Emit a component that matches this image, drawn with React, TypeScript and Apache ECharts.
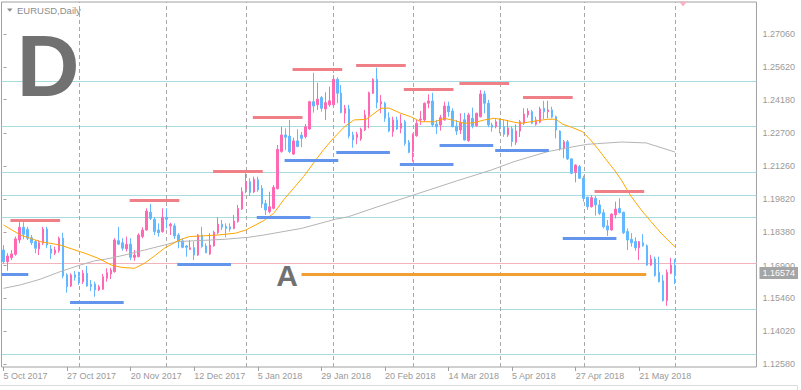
import React, { useEffect, useRef } from "react";
import * as echarts from "echarts";

// ---------- data ----------
const MONTHS = ["Jan", "Feb", "Mar", "Apr", "May", "Jun", "Jul", "Aug", "Sep", "Oct", "Nov", "Dec"];
const HOLIDAYS = ["2017-12-25", "2018-01-01"];
const SHIFT_BARS = 20;
const LABEL_EVERY = 16;

// [open, high, low, close]
const candles: [number, number, number, number][] = [
  [1.1758, 1.1780, 1.1697, 1.1707], [1.1707, 1.1744, 1.1667, 1.1732], [1.1724, 1.1758, 1.1714, 1.1741],
  [1.1739, 1.1817, 1.1733, 1.1807], [1.1802, 1.1880, 1.1788, 1.1858], [1.1858, 1.1880, 1.1805, 1.1827],
  [1.1849, 1.1860, 1.1802, 1.1810], [1.1812, 1.1824, 1.1780, 1.1790], [1.1795, 1.1802, 1.1744, 1.1766],
  [1.1763, 1.1802, 1.1736, 1.1790], [1.1788, 1.1860, 1.1780, 1.1850], [1.1850, 1.1860, 1.1766, 1.1780],
  [1.1763, 1.1780, 1.1719, 1.1744], [1.1744, 1.1773, 1.1736, 1.1758], [1.1755, 1.1817, 1.1746, 1.1810],
  [1.1810, 1.1834, 1.1634, 1.1644], [1.1649, 1.1656, 1.1571, 1.1597], [1.1600, 1.1656, 1.1595, 1.1649],
  [1.1649, 1.1666, 1.1624, 1.1638], [1.1641, 1.1663, 1.1605, 1.1619], [1.1619, 1.1670, 1.1609, 1.1656],
  [1.1656, 1.1688, 1.1597, 1.1600], [1.1608, 1.1627, 1.1578, 1.1598], [1.1609, 1.1619, 1.1553, 1.1583],
  [1.1583, 1.1605, 1.1578, 1.1597], [1.1586, 1.1653, 1.1583, 1.1641], [1.1634, 1.1678, 1.1619, 1.1659],
  [1.1653, 1.1680, 1.1630, 1.1670], [1.1663, 1.1810, 1.1659, 1.1802], [1.1799, 1.1860, 1.1780, 1.1784],
  [1.1790, 1.1810, 1.1755, 1.1766], [1.1763, 1.1817, 1.1751, 1.1783], [1.1784, 1.1810, 1.1714, 1.1726],
  [1.1726, 1.1758, 1.1711, 1.1736], [1.1729, 1.1832, 1.1726, 1.1824], [1.1817, 1.1858, 1.1810, 1.1846],
  [1.1846, 1.1941, 1.1843, 1.1929], [1.1924, 1.1960, 1.1890, 1.1897], [1.1893, 1.1902, 1.1824, 1.1839],
  [1.1846, 1.1875, 1.1817, 1.1834], [1.1839, 1.1941, 1.1834, 1.1902], [1.1902, 1.1941, 1.1853, 1.1893],
  [1.1864, 1.1878, 1.1824, 1.1871], [1.1864, 1.1875, 1.1807, 1.1820], [1.1824, 1.1832, 1.1766, 1.1795],
  [1.1798, 1.1810, 1.1766, 1.1770], [1.1776, 1.1780, 1.1729, 1.1770], [1.1761, 1.1802, 1.1758, 1.1768],
  [1.1768, 1.1795, 1.1714, 1.1736], [1.1736, 1.1828, 1.1732, 1.1824], [1.1824, 1.1860, 1.1768, 1.1773],
  [1.1776, 1.1788, 1.1744, 1.1746], [1.1741, 1.1832, 1.1736, 1.1780], [1.1776, 1.1843, 1.1773, 1.1836],
  [1.1834, 1.1902, 1.1828, 1.1872], [1.1871, 1.1890, 1.1846, 1.1858], [1.1862, 1.1875, 1.1814, 1.1853],
  [1.1860, 1.1875, 1.1839, 1.1850], [1.1853, 1.1912, 1.1849, 1.1885], [1.1883, 1.1956, 1.1878, 1.1941],
  [1.1938, 1.2033, 1.1934, 1.2014], [1.2025, 1.2095, 1.2007, 1.2058], [1.2058, 1.2073, 1.1995, 1.2010],
  [1.2013, 1.2080, 1.2008, 1.2068], [1.2066, 1.2080, 1.2014, 1.2022], [1.2029, 1.2043, 1.1943, 1.1960],
  [1.1962, 1.1978, 1.1912, 1.1934], [1.1926, 1.2014, 1.1919, 1.1948], [1.1941, 1.2043, 1.1937, 1.2033],
  [1.2027, 1.2219, 1.2024, 1.2200], [1.2190, 1.2299, 1.2185, 1.2263], [1.2263, 1.2292, 1.2197, 1.2253],
  [1.2258, 1.2329, 1.2183, 1.2190], [1.2179, 1.2251, 1.2175, 1.2237], [1.2237, 1.2288, 1.2209, 1.2212],
  [1.2262, 1.2276, 1.2209, 1.2248], [1.2255, 1.2311, 1.2248, 1.2299], [1.2289, 1.2413, 1.2285, 1.2409],
  [1.2409, 1.2536, 1.2361, 1.2390], [1.2395, 1.2492, 1.2373, 1.2420], [1.2427, 1.2434, 1.2365, 1.2380],
  [1.2377, 1.2450, 1.2329, 1.2405], [1.2395, 1.2475, 1.2387, 1.2413], [1.2395, 1.2526, 1.2387, 1.2507],
  [1.2507, 1.2516, 1.2402, 1.2446], [1.2446, 1.2482, 1.2358, 1.2361], [1.2358, 1.2395, 1.2314, 1.2380],
  [1.2377, 1.2395, 1.2248, 1.2258], [1.2263, 1.2277, 1.2207, 1.2241], [1.2252, 1.2277, 1.2222, 1.2266],
  [1.2245, 1.2295, 1.2237, 1.2289], [1.2285, 1.2373, 1.2280, 1.2351], [1.2348, 1.2453, 1.2292, 1.2448],
  [1.2446, 1.2512, 1.2443, 1.2507], [1.2507, 1.2558, 1.2380, 1.2405], [1.2399, 1.2438, 1.2358, 1.2409],
  [1.2402, 1.2409, 1.2321, 1.2336], [1.2339, 1.2362, 1.2275, 1.2280], [1.2277, 1.2343, 1.2255, 1.2329],
  [1.2329, 1.2343, 1.2285, 1.2289], [1.2292, 1.2354, 1.2270, 1.2314], [1.2321, 1.2329, 1.2216, 1.2226],
  [1.2231, 1.2241, 1.2183, 1.2187], [1.2190, 1.2270, 1.2146, 1.2263], [1.2260, 1.2329, 1.2255, 1.2314],
  [1.2329, 1.2368, 1.2307, 1.2333], [1.2329, 1.2406, 1.2321, 1.2402], [1.2402, 1.2441, 1.2380, 1.2412],
  [1.2412, 1.2448, 1.2299, 1.2307], [1.2311, 1.2329, 1.2267, 1.2299], [1.2307, 1.2351, 1.2282, 1.2339],
  [1.2329, 1.2409, 1.2326, 1.2390], [1.2390, 1.2409, 1.2343, 1.2365], [1.2368, 1.2380, 1.2297, 1.2299],
  [1.2302, 1.2329, 1.2263, 1.2280], [1.2285, 1.2358, 1.2267, 1.2317], [1.2330, 1.2360, 1.2238, 1.2241],
  [1.2238, 1.2360, 1.2233, 1.2351], [1.2336, 1.2383, 1.2292, 1.2302], [1.2304, 1.2361, 1.2299, 1.2358],
  [1.2343, 1.2460, 1.2340, 1.2443], [1.2443, 1.2457, 1.2358, 1.2402], [1.2402, 1.2417, 1.2297, 1.2307],
  [1.2307, 1.2317, 1.2277, 1.2297], [1.2299, 1.2332, 1.2292, 1.2321], [1.2321, 1.2336, 1.2270, 1.2299],
  [1.2299, 1.2332, 1.2255, 1.2266], [1.2263, 1.2329, 1.2254, 1.2294], [1.2290, 1.2300, 1.2212, 1.2233],
  [1.2231, 1.2310, 1.2219, 1.2280], [1.2280, 1.2329, 1.2254, 1.2321], [1.2314, 1.2380, 1.2307, 1.2355],
  [1.2351, 1.2380, 1.2339, 1.2368], [1.2365, 1.2373, 1.2310, 1.2314], [1.2310, 1.2343, 1.2304, 1.2329],
  [1.2319, 1.2387, 1.2314, 1.2377], [1.2380, 1.2413, 1.2333, 1.2365], [1.2365, 1.2413, 1.2336, 1.2373],
  [1.2373, 1.2387, 1.2336, 1.2341], [1.2343, 1.2348, 1.2248, 1.2285], [1.2280, 1.2283, 1.2194, 1.2202],
  [1.2202, 1.2241, 1.2161, 1.2233], [1.2233, 1.2241, 1.2153, 1.2158], [1.2158, 1.2161, 1.2091, 1.2095],
  [1.2099, 1.2134, 1.2055, 1.2131], [1.2124, 1.2131, 1.2070, 1.2073], [1.2073, 1.2084, 1.1970, 1.1985],
  [1.1990, 1.1992, 1.1934, 1.1948], [1.1948, 1.1999, 1.1944, 1.1988], [1.1985, 1.1995, 1.1909, 1.1956],
  [1.1956, 1.1978, 1.1912, 1.1919], [1.1922, 1.1937, 1.1853, 1.1860], [1.1864, 1.1890, 1.1820, 1.1846],
  [1.1846, 1.1919, 1.1843, 1.1916], [1.1912, 1.1970, 1.1897, 1.1938], [1.1941, 1.1985, 1.1919, 1.1922],
  [1.1924, 1.1926, 1.1828, 1.1834], [1.1839, 1.1853, 1.1758, 1.1802], [1.1805, 1.1832, 1.1773, 1.1790],
  [1.1795, 1.1814, 1.1755, 1.1768], [1.1768, 1.1798, 1.1714, 1.1795], [1.1790, 1.1828, 1.1773, 1.1777],
  [1.1777, 1.1783, 1.1688, 1.1692], [1.1692, 1.1736, 1.1688, 1.1719], [1.1719, 1.1729, 1.1641, 1.1646],
  [1.1660, 1.1729, 1.1616, 1.1619], [1.1623, 1.1649, 1.1532, 1.1536], [1.1536, 1.1673, 1.1513, 1.1660],
  [1.1656, 1.1724, 1.1652, 1.1692], [1.1688, 1.1719, 1.1608, 1.16574],
];

// moving averages: [bar position, price]
const maFast: [number, number][] = [
  [0, 1.1868], [4.25, 1.1824], [9.25, 1.1795], [14.25, 1.1780], [19.25, 1.1751], [20.5, 1.1744],
  [23.8, 1.1722], [27.2, 1.1692], [29.7, 1.1682], [33, 1.1678], [35.5, 1.1700], [38, 1.1732],
  [40.5, 1.1766], [43, 1.1790], [44.25, 1.1802], [46.75, 1.1817], [50, 1.1820], [54, 1.1824],
  [58.4, 1.1832], [61, 1.1846], [63.4, 1.1868], [65.5, 1.1887], [68, 1.1919], [70.5, 1.1978],
  [73, 1.2029], [75.5, 1.2080], [78, 1.2139], [80.5, 1.2197], [83, 1.2248], [86, 1.2302],
  [88.25, 1.2329], [91.25, 1.2331], [95, 1.2380], [97, 1.2381], [100, 1.2358], [102.5, 1.2343],
  [105, 1.2321], [108.5, 1.2321], [111, 1.2336], [113.5, 1.2326], [116, 1.2314], [118.5, 1.2317],
  [121, 1.2329], [123.5, 1.2336], [126, 1.2329], [128.5, 1.2319], [130.25, 1.2314], [133.75, 1.2324],
  [137, 1.2332], [139, 1.2332], [140.75, 1.2310], [143.25, 1.2295], [145.75, 1.2277], [147.75, 1.2241],
  [149.5, 1.2204], [151.75, 1.2153], [153.75, 1.2109], [155.5, 1.2065], [158, 1.1992], [160.5, 1.1934],
  [163, 1.1882], [165.5, 1.1832], [168, 1.1788], [169, 1.1773],
];
const maSlow: [number, number][] = [
  [0, 1.1590], [4.25, 1.1605], [9.25, 1.1630], [14.25, 1.1663], [19.25, 1.1692], [23, 1.1711],
  [25.5, 1.1717], [30.5, 1.1736], [35.5, 1.1758], [40.5, 1.1780], [43.75, 1.1795], [55.5, 1.1805],
  [61.75, 1.1814], [65.5, 1.1824], [75, 1.1853], [83.5, 1.1893], [86.75, 1.1904], [94, 1.1947],
  [104, 1.2004], [114, 1.2061], [122.75, 1.2109], [128.5, 1.2146], [137, 1.2190], [142, 1.2207],
  [147, 1.2222], [149.5, 1.2225], [155.5, 1.2232], [161.75, 1.2228], [169, 1.2188],
];

// y-axis tick labels
const yTicks = [1.1258, 1.1402, 1.1546, 1.169, 1.1838, 1.1982, 1.2126, 1.227, 1.2418, 1.2562, 1.2706];
const Y_MIN = 1.12448;
const Y_MAX = 1.28464;

// horizontal levels (full width)
const levels = [1.2509, 1.2285, 1.2092, 1.2035, 1.1864, 1.1651, 1.1464, 1.1284];
// vertical dashed separators (bar positions)
const separators = [19, 41, 61, 83, 103, 125, 146.25, 169];
// resistance / support segments: [fromBar, toBar, price]
const resistances: [number, number, number][] = [
  [1.75, 14.25, 1.1890], [31.75, 44.25, 1.1978], [52.75, 65.25, 1.2105], [62.75, 75.25, 1.2342],
  [72.75, 85.25, 1.2552], [88.75, 101.25, 1.2570], [100.75, 113.25, 1.2462], [114.75, 127.25, 1.2492],
  [130.75, 143.25, 1.2430], [148.75, 161.25, 1.2014],
];
const supports: [number, number, number][] = [
  [-0.5, 6.25, 1.1653], [16.75, 30.25, 1.1531], [43.75, 57.25, 1.1697], [63.75, 77.25, 1.1900],
  [70.75, 84.25, 1.2150], [83.75, 97.25, 1.2185], [99.75, 113.25, 1.2133], [109.75, 123.25, 1.2220],
  [123.75, 137.25, 1.2194], [140.75, 154.25, 1.1808],
];
const lineA: [number, number, number] = [75, 161.75, 1.1650];
const lastPrice = 1.16574;

// ---------- helpers ----------
function buildDates(count: number): string[] {
  const out: string[] = [];
  const d = new Date(Date.UTC(2017, 9, 5));
  while (out.length < count) {
    const wd = d.getUTCDay();
    const iso = d.toISOString().slice(0, 10);
    if (wd !== 0 && wd !== 6 && !HOLIDAYS.includes(iso)) {
      out.push(`${d.getUTCDate()} ${MONTHS[d.getUTCMonth()]} ${d.getUTCFullYear()}`);
    }
    d.setUTCDate(d.getUTCDate() + 1);
  }
  return out;
}
const categories = [...buildDates(candles.length), ...new Array(SHIFT_BARS).fill("")];
const TOTAL_BARS = categories.length;
const showLabel = (idx: number) => idx % LABEL_EVERY === 0 && idx < candles.length;

const FONT = "'Liberation Sans', Arial, sans-serif";
const UP = "#ff69b4";
const DOWN = "#63b8ff";
const LABEL_COLOR = "#9a9a9a";

function segs(list: [number, number, number][], color: string, width: number) {
  return list.map(([a, b, p]) => [
    { coord: [a, p], lineStyle: { color, width, type: "solid" } },
    { coord: [b, p] },
  ]);
}

export default function App() {
  const ref = useRef<HTMLDivElement>(null);
  useEffect(() => {
    if (!ref.current) return;
    const chart = echarts.init(ref.current, undefined, { renderer: "svg" });
    const option: any = {
      animation: false,
      backgroundColor: "#ffffff",
      grid: {
        left: 1.5, top: 2, width: 759.5, height: 365, show: true,
        borderColor: "#a0a0a0", borderWidth: 1, backgroundColor: "#ffffff",
      },
      xAxis: [
        {
          type: "category", data: categories, boundaryGap: true,
          axisLine: { show: false },
          axisTick: { show: true, interval: (i: number) => showLabel(i), alignWithLabel: true, length: 4, lineStyle: { color: "#a0a0a0" } },
          axisLabel: { interval: (i: number) => showLabel(i), align: "left", margin: 4, color: LABEL_COLOR, fontSize: 9, fontFamily: FONT },
          splitLine: { show: false },
        },
        { type: "value", min: -0.5, max: TOTAL_BARS - 0.5, show: false },
      ],
      yAxis: [
        {
          type: "value", position: "right", min: Y_MIN, max: Y_MAX,
          axisLine: { show: false },
          axisTick: { show: true, customValues: yTicks, length: 3, lineStyle: { color: "#a0a0a0" } },
          axisLabel: { customValues: yTicks, formatter: (v: number) => v.toFixed(5), margin: 6, color: LABEL_COLOR, fontSize: 9, fontFamily: FONT },
          splitLine: { show: false },
        },
        {
          type: "value", position: "right", min: Y_MIN, max: Y_MAX,
          axisLine: { show: false }, axisTick: { show: false }, splitLine: { show: false },
          axisLabel: {
            customValues: [lastPrice], formatter: (v: number) => v.toFixed(5), margin: 3,
            color: "#ffffff", backgroundColor: "#a5a5a5", padding: [2, 3, 1, 3], fontSize: 9, fontFamily: FONT,
          },
        },
      ],
      series: [
        {
          name: "levels", type: "line", xAxisIndex: 1, data: [], symbol: "none", silent: true,
          markLine: {
            z: 1, silent: true, symbol: ["none", "none"], label: { show: false },
            emphasis: { disabled: true },
            data: [
              ...levels.map((p) => ({ yAxis: p, lineStyle: { color: "#a6dce0", width: 1, type: "solid" } })),
              ...separators.map((x) => ({ xAxis: x, lineStyle: { color: "#a8a8a8", width: 1, type: [4, 3] } })),
              { yAxis: lastPrice, lineStyle: { color: "#f3b3bd", width: 1, type: "solid" } },
            ],
          },
        },
        {
          name: "EURUSD", type: "candlestick", xAxisIndex: 0, barWidth: 2,
          data: candles.map(([o, h, l, c]) => [o, c, l, h]),
          itemStyle: { color: UP, color0: DOWN, borderColor: UP, borderColor0: DOWN, borderWidth: 1 },
          silent: true,
        },
        {
          name: "MA slow", type: "line", xAxisIndex: 1, data: maSlow, symbol: "none", z: 3, silent: true,
          lineStyle: { color: "#b4b4b4", width: 1 },
        },
        {
          name: "MA fast", type: "line", xAxisIndex: 1, data: maFast, symbol: "none", z: 3, silent: true,
          lineStyle: { color: "#ffa500", width: 1 },
        },
        {
          name: "objects", type: "line", xAxisIndex: 1, data: [], symbol: "none", silent: true,
          markLine: {
            z: 4, silent: true, symbol: ["none", "none"], label: { show: false },
            emphasis: { disabled: true },
            data: [
              ...segs(resistances, "#f08088", 3),
              ...segs(supports, "#6495ed", 3),
              ...segs([lineA], "#f0a030", 3),
            ],
          },
        },
      ],
      graphic: [
        { type: "polygon", z: 10, shape: { points: [[7, 8.5], [12.5, 8.5], [9.75, 11.8]] }, style: { fill: "#8c8c8c" } },
        { type: "text", z: 10, style: { text: "EURUSD,Daily", x: 17, y: 10.5, verticalAlign: "middle", fill: "#8c8c8c", fontSize: 9.5, fontFamily: FONT } },
        { type: "text", z: 10, style: { text: "D", x: 48.2, y: 65, align: "center", verticalAlign: "middle", fill: "#717171", fontSize: 87, fontWeight: "bold", fontFamily: FONT } },
        { type: "text", z: 10, style: { text: "A", x: 287, y: 275, align: "center", verticalAlign: "middle", fill: "#717171", fontSize: 30, fontWeight: "bold", fontFamily: FONT } },
        { type: "polygon", z: 10, shape: { points: [[679, 1.5], [687, 1.5], [683, 6.5]] }, style: { fill: "#f4b4c4" } },
        { type: "line", z: 10, shape: { x1: 0, y1: 385.5, x2: 797.5, y2: 385.5 }, style: { stroke: "#dcdcdc", lineWidth: 1 } },
        { type: "line", z: 10, shape: { x1: 797.5, y1: 385.5, x2: 797.5, y2: 390 }, style: { stroke: "#dcdcdc", lineWidth: 1 } },
      ],
    };
    chart.setOption(option);
    return () => chart.dispose();
  }, []);
  return <div ref={ref} style={{ position: "absolute", left: 0, top: 0, width: 801, height: 390 }} />;
}
